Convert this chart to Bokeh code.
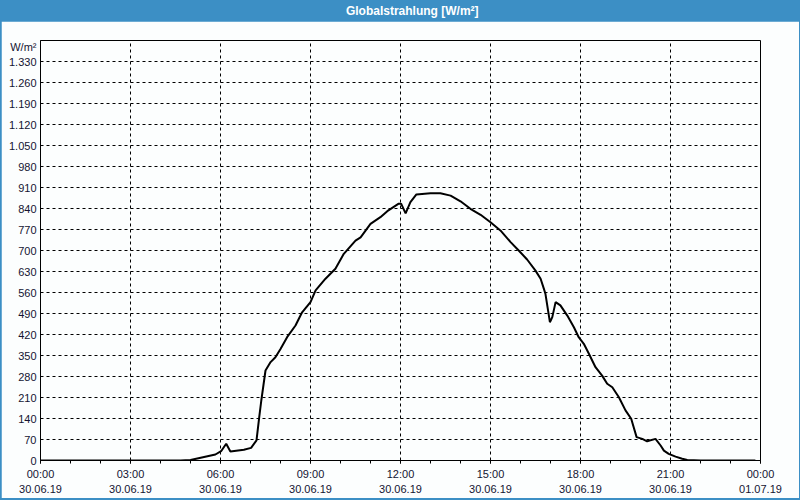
from bokeh.plotting import figure
from bokeh.models import FixedTicker, Range1d
from bokeh.layouts import column
from bokeh.core.properties import value
from bokeh.embed import file_html
from bokeh.resources import INLINE

# ---- data (hours since 30.06.19 00:00, W/m²) ----
hours = [0, 4.67, 5.0, 5.83, 6.02, 6.19, 6.33, 6.78, 7.02, 7.2, 7.29, 7.36, 7.5, 7.67,
         7.83, 8.0, 8.22, 8.5, 8.72, 9.0, 9.17, 9.5, 9.83, 10.11, 10.5, 10.67, 11.0,
         11.33, 11.56, 11.94, 12.02, 12.17, 12.33, 12.53, 13.0, 13.33, 13.67, 14.0,
         14.33, 14.67, 15.0, 15.33, 15.67, 15.94, 16.22, 16.5, 16.67, 16.78, 16.83,
         16.98, 17.06, 17.17, 17.33, 17.56, 17.78, 17.94, 18.11, 18.28, 18.5, 18.72,
         18.89, 19.06, 19.28, 19.5, 19.69, 19.87, 20.06, 20.22, 20.5, 20.67, 20.78,
         20.94, 21.17, 21.39, 21.56, 22.0, 23.83]
radiation = [0, 0, 2, 20, 31, 56, 30, 36, 42, 67, 144, 200, 300, 328,
             344, 372, 411, 450, 494, 528, 567, 606, 639, 689, 733, 744, 789,
             811, 831, 856, 856, 824, 861, 887, 891, 891, 883, 864,
             839, 819, 794, 767, 728, 700, 670, 633, 606, 572, 556,
             461, 478, 528, 517, 483, 444, 411, 389, 356, 311, 283,
             256, 244, 211, 167, 139, 78, 72, 64, 72, 50, 33,
             22, 13, 6, 2, 0, 0]

x_ticks = [0, 3, 6, 9, 12, 15, 18, 21, 24]
time_labels = ["00:00", "03:00", "06:00", "09:00", "12:00", "15:00", "18:00", "21:00", "00:00"]
date_labels = ["30.06.19"] * 8 + ["01.07.19"]
y_ticks = list(range(0, 1331, 70))
y_labels = [f"{v:,}".replace(",", ".") for v in y_ticks]
unit_pos = 1380          # where the unit caption sits on the value axis
unit_text = "W/m²"
title_text = "Globalstrahlung [W/m²]"

BLUE = "#3c8fc5"
BG = "#fcfefe"
TXT = "#141432"
FONT = "Liberation Sans"

# ---- title bar ----
t = figure(width=800, height=21, x_range=Range1d(0, 800), y_range=Range1d(0, 21),
           output_backend="svg", toolbar_location=None,
           x_axis_location=None, y_axis_location=None,
           min_border_left=0, min_border_right=0, min_border_top=0, min_border_bottom=0)
t.background_fill_color = BLUE
t.border_fill_color = BLUE
t.outline_line_color = None
t.grid.grid_line_color = None
t.text(x=[413], y=[10.5], text=[title_text], text_align="center", text_baseline="middle",
       text_color="white", text_font_style="bold", text_font_size="12px",
       text_font=value(FONT))

# ---- main chart ----
p = figure(width=798, height=477, x_range=Range1d(0, 24), y_range=Range1d(0, 1400),
           output_backend="svg", toolbar_location=None,
           min_border_left=39, min_border_right=39, min_border_top=19, min_border_bottom=38)
p.margin = (0, 1, 2, 1)
p.background_fill_color = BG
p.border_fill_color = BG
p.outline_line_color = "black"

p.line(hours, radiation, line_color="black", line_width=2)

xa = p.xaxis[0]
xa.ticker = FixedTicker(ticks=x_ticks, minor_ticks=list(range(25)))
xa.major_label_overrides = {tk: f"{a}\n{b}" for tk, a, b in zip(x_ticks, time_labels, date_labels)}
xa.major_tick_in = 0
xa.major_tick_out = 3
xa.minor_tick_in = 0
xa.minor_tick_out = 3
xa.major_label_standoff = 4
xa.axis_line_color = "black"
xa.major_label_text_font = FONT
xa.major_label_text_font_size = "11px"
xa.major_label_text_color = TXT
xa.major_label_text_line_height = 1.3

ya = p.yaxis[0]
ya.ticker = FixedTicker(ticks=y_ticks + [unit_pos])
overrides = {tk: l for tk, l in zip(y_ticks, y_labels)}
overrides[unit_pos] = unit_text
ya.major_label_overrides = overrides
ya.major_tick_in = 0
ya.major_tick_out = 0
ya.minor_tick_out = 0
ya.minor_tick_in = 0
ya.major_label_standoff = 4
ya.axis_line_color = "black"
ya.major_label_text_font = FONT
ya.major_label_text_font_size = "11px"
ya.major_label_text_color = TXT

p.xgrid.ticker = FixedTicker(ticks=x_ticks[1:-1])
p.ygrid.ticker = FixedTicker(ticks=y_ticks[1:])
p.grid.grid_line_color = "black"
p.grid.grid_line_alpha = 1
p.grid.grid_line_dash = "3 3"

layout = column(t, p, spacing=0, styles={"background-color": BLUE})

open("out.html", "w").write(file_html(layout, INLINE))
